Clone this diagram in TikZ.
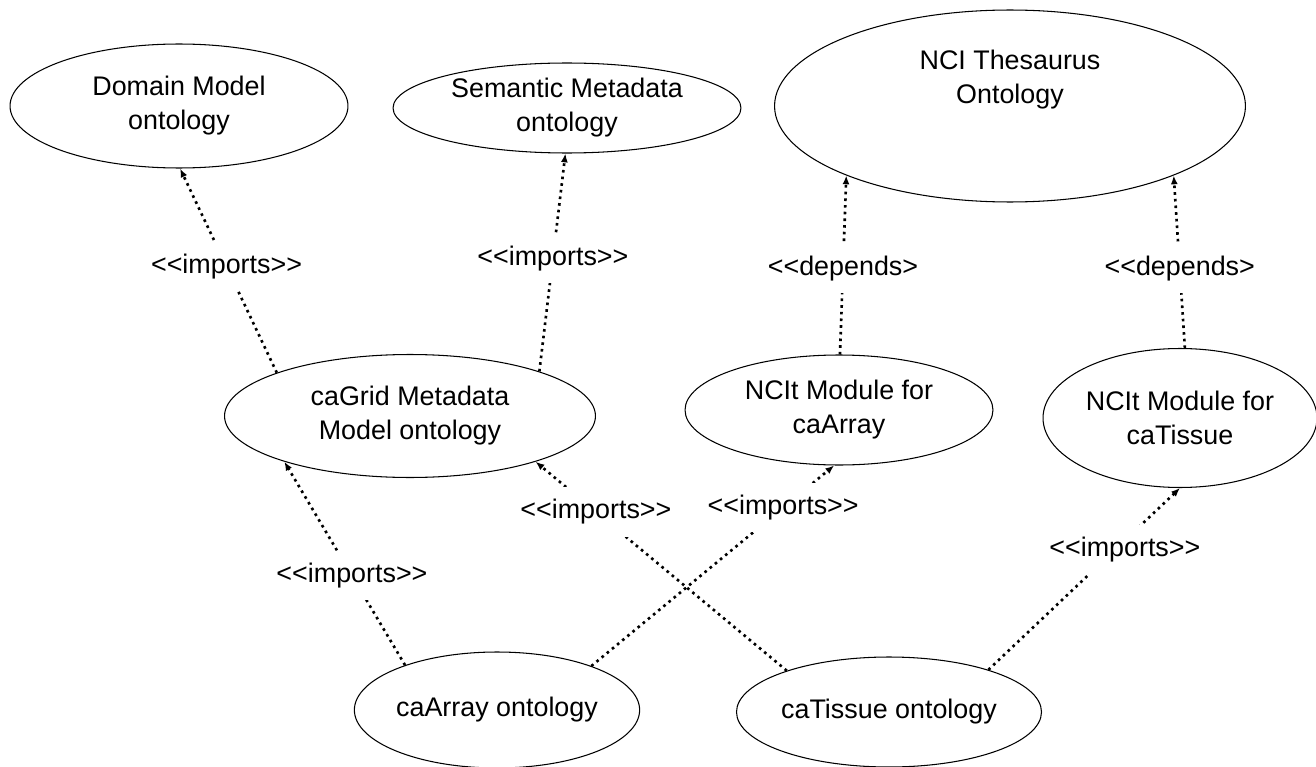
\documentclass[tikz,border=0pt]{standalone}
\usepackage{fontspec}
\setmainfont{Liberation Sans}
\usetikzlibrary{arrows.meta, shapes.geometric}

\newcommand{\imports}{\textless\kern0pt\textless\kern0pt imports\kern0pt\textgreater\kern0pt\textgreater}
\newcommand{\depends}{\textless\kern0pt\textless\kern0pt depends\kern0pt\textgreater}

\begin{document}
\begin{tikzpicture}[
            x = 0.02cm, y = -0.02cm, % one unit = one pixel of the sketch
            > = {Latex[length=5pt,width=4pt]}, % arrow head style
            font = \fontsize{15.3}{19.3}\selectfont,
            line join = round
        ]

        \tikzstyle{onto}=[
            ellipse,
            draw = black,
            line width = 0.6pt,
            inner sep = 0pt,
            align = center
        ]
        \tikzstyle{imp}=[->, line width = 1.5pt, dash pattern = on 1.5pt off 2.3pt]
        \tikzstyle{stereo}=[fill = white, inner xsep = 2pt, inner ysep = 7pt]

        \useasboundingbox (0,0) rectangle (1316,767);

        \node[onto, minimum width=6.76cm, minimum height=2.48cm] (dm) at (179,106) {Domain Model\\ontology};
        \node[onto, minimum width=6.96cm, minimum height=1.80cm] (sm) at (567,108) {Semantic Metadata\\ontology};
        \node[onto, minimum width=9.42cm, minimum height=3.84cm] (nci) at (1010,106) {};
        \node[align=center] (ncitext) at (1010,80) {NCI Thesaurus\\Ontology};
        \node[onto, minimum width=7.42cm, minimum height=2.46cm] (cag) at (410,416) {caGrid Metadata\\Model ontology};
        \node[onto, minimum width=6.16cm, minimum height=2.20cm] (mca) at (839,410) {NCIt Module for\\caArray};
        \node[onto, minimum width=5.48cm, minimum height=2.78cm] (mct) at (1180,418) {NCIt Module for\\caTissue};
        \node[onto, minimum width=5.06cm, minimum height=2.32cm] (caa) at (497,710) {caArray ontology};
        \node[onto, minimum width=5.36cm, minimum height=2.20cm] (cat) at (889,712) {caTissue ontology};

        % imports / depends links
        \path[imp] (cag.162) edge node[stereo, pos=.52] {\imports} (dm.271);
        \path[imp] (cag.19) edge node[stereo, pos=.52] {\imports} (sm.268);
        \path[imp] (mca.89) edge node[stereo, pos=.48] {\depends} (nci.203);
        \path[imp] (mct.86) edge node[stereo, pos=.46] {\depends} (nci.337);
        \path[imp] (caa.154) edge node[stereo, pos=.44] {\imports} (cag.200);
        \path[imp] (cat.158) edge node[stereo, pos=.76] {\imports} (cag.340);
        \path[imp] (caa.25) edge node[stereo, pos=.79] {\imports} (mca.265);
        \path[imp] (cat.23) edge node[stereo, pos=.66, xshift=0.2cm] {\imports} (mct.270);

  \end{tikzpicture}
\end{document}
